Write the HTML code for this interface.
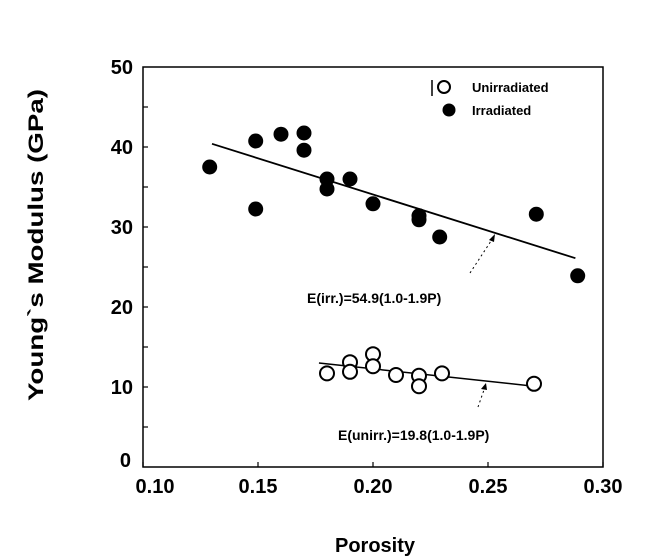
<!DOCTYPE html>
<html><head><meta charset="utf-8"><style>
html,body{margin:0;padding:0;background:#fff;}
svg{display:block;font-family:"Liberation Sans",Arial,sans-serif;font-weight:bold;}
</style></head><body>
<svg id="chart" width="654" height="558" viewBox="0 0 654 558">
<g id="axes"></g>
<g id="marks"></g>
<text x="375" y="552" font-size="20" text-anchor="middle">Porosity</text>
<text transform="translate(43,245) rotate(-90)" font-size="21" text-anchor="middle" textLength="312" lengthAdjust="spacingAndGlyphs">Young`s Modulus (GPa)</text>
<g>
<line x1="432" y1="80" x2="432" y2="96" stroke="#000" stroke-width="1.5"/>
<circle cx="444" cy="87" r="6" fill="#fff" stroke="#000" stroke-width="2"/>
<text x="472" y="92" font-size="13">Unirradiated</text>
<circle cx="449" cy="110" r="6.5" fill="#000"/>
<text x="472" y="115" font-size="13">Irradiated</text>
</g>
<text x="307" y="303" font-size="14">E(irr.)=54.9(1.0-1.9P)</text>
<text x="338" y="440" font-size="14">E(unirr.)=19.8(1.0-1.9P)</text>
<line x1="470" y1="273" x2="493" y2="238" stroke="#000" stroke-width="1" stroke-dasharray="2,3"/>
<polygon points="495,234 489,240 494,242" fill="#000"/>
<line x1="478" y1="407" x2="485" y2="387" stroke="#000" stroke-width="1" stroke-dasharray="2,3"/>
<polygon points="486,383 481,389 487,390" fill="#000"/>
</svg>
<script>
const irrP=[0.129,0.149,0.149,0.160,0.170,0.170,0.180,0.180,0.190,0.200,0.220,0.220,0.229,0.271,0.289];
const irrE=[37.5,40.75,32.25,41.6,41.75,39.6,36.0,34.75,36.0,32.9,31.4,30.9,28.75,31.6,23.9];
const unP=[0.180,0.190,0.190,0.200,0.200,0.210,0.220,0.220,0.230,0.270];
const unE=[11.7,13.1,11.9,14.1,12.6,11.5,11.4,10.1,11.7,10.4];
const irrLineP=[0.130,0.288];
const irrLineE=[40.4,26.1];
const unLineP=[0.1765,0.270];
const unLineE=[13.0,10.1];
const xTicks=[0.10,0.15,0.20,0.25,0.30];
const xTickLabels=["0.10","0.15","0.20","0.25","0.30"];
const yTicks=[0,10,20,30,40,50];
const yTickLabels=["0","10","20","30","40","50"];
const X0=143,X1=603,Y0=467,Y1=67;
function sx(p){return X0+(p-0.10)/(0.20)*(X1-X0);}
function sy(e){return Y0-(e/50)*(Y0-Y1);}
const NS="http://www.w3.org/2000/svg";
function mk(tag,attrs,parent){const el=document.createElementNS(NS,tag);for(const k in attrs)el.setAttribute(k,attrs[k]);parent.appendChild(el);return el;}
const axes=document.getElementById('axes'),marks=document.getElementById('marks');
let f=mk('rect',{x:X0,y:Y1,width:X1-X0,height:Y0-Y1,fill:'none',stroke:'#000','stroke-width':1.5},axes);


for(let v=5;v<50;v+=5){
  let t=mk('line',{x1:X0,x2:X0+5,y1:sy(v),y2:sy(v),stroke:'#000','stroke-width':1.2},axes);
  
  
}
yTicks.forEach((v,i)=>{
  let isZero=v===0;
  let t=mk('text',{x:isZero?131:133,y:isZero?sy(v)+0:sy(v)+7,'font-size':20,'text-anchor':'end'},axes);
  t.textContent=yTickLabels[i];
  
  
});
xTicks.forEach((v,i)=>{
  let tk=mk('line',{x1:sx(v),x2:sx(v),y1:Y0,y2:Y0-5,stroke:'#000','stroke-width':1.2},axes);
  
  
  let t=mk('text',{x:sx(v)+(i===0?12:0),y:493,'font-size':20,'text-anchor':'middle'},axes);
  t.textContent=xTickLabels[i];
  
  
});
let l1=mk('line',{x1:sx(irrLineP[0]),y1:sy(irrLineE[0]),x2:sx(irrLineP[1]),y2:sy(irrLineE[1]),stroke:'#000','stroke-width':1.8},marks);


let l2=mk('line',{x1:sx(unLineP[0]),y1:sy(unLineE[0]),x2:sx(unLineP[1]),y2:sy(unLineE[1]),stroke:'#000','stroke-width':1.5},marks);


irrP.forEach((p,i)=>{
  let c=mk('circle',{cx:sx(p),cy:sy(irrE[i]),r:7.5,fill:'#000'},marks);
  
  
});
unP.forEach((p,i)=>{
  let c=mk('circle',{cx:sx(p),cy:sy(unE[i]),r:7,fill:'#fff',stroke:'#000','stroke-width':2},marks);
  
  
});
</script>
</body></html>
